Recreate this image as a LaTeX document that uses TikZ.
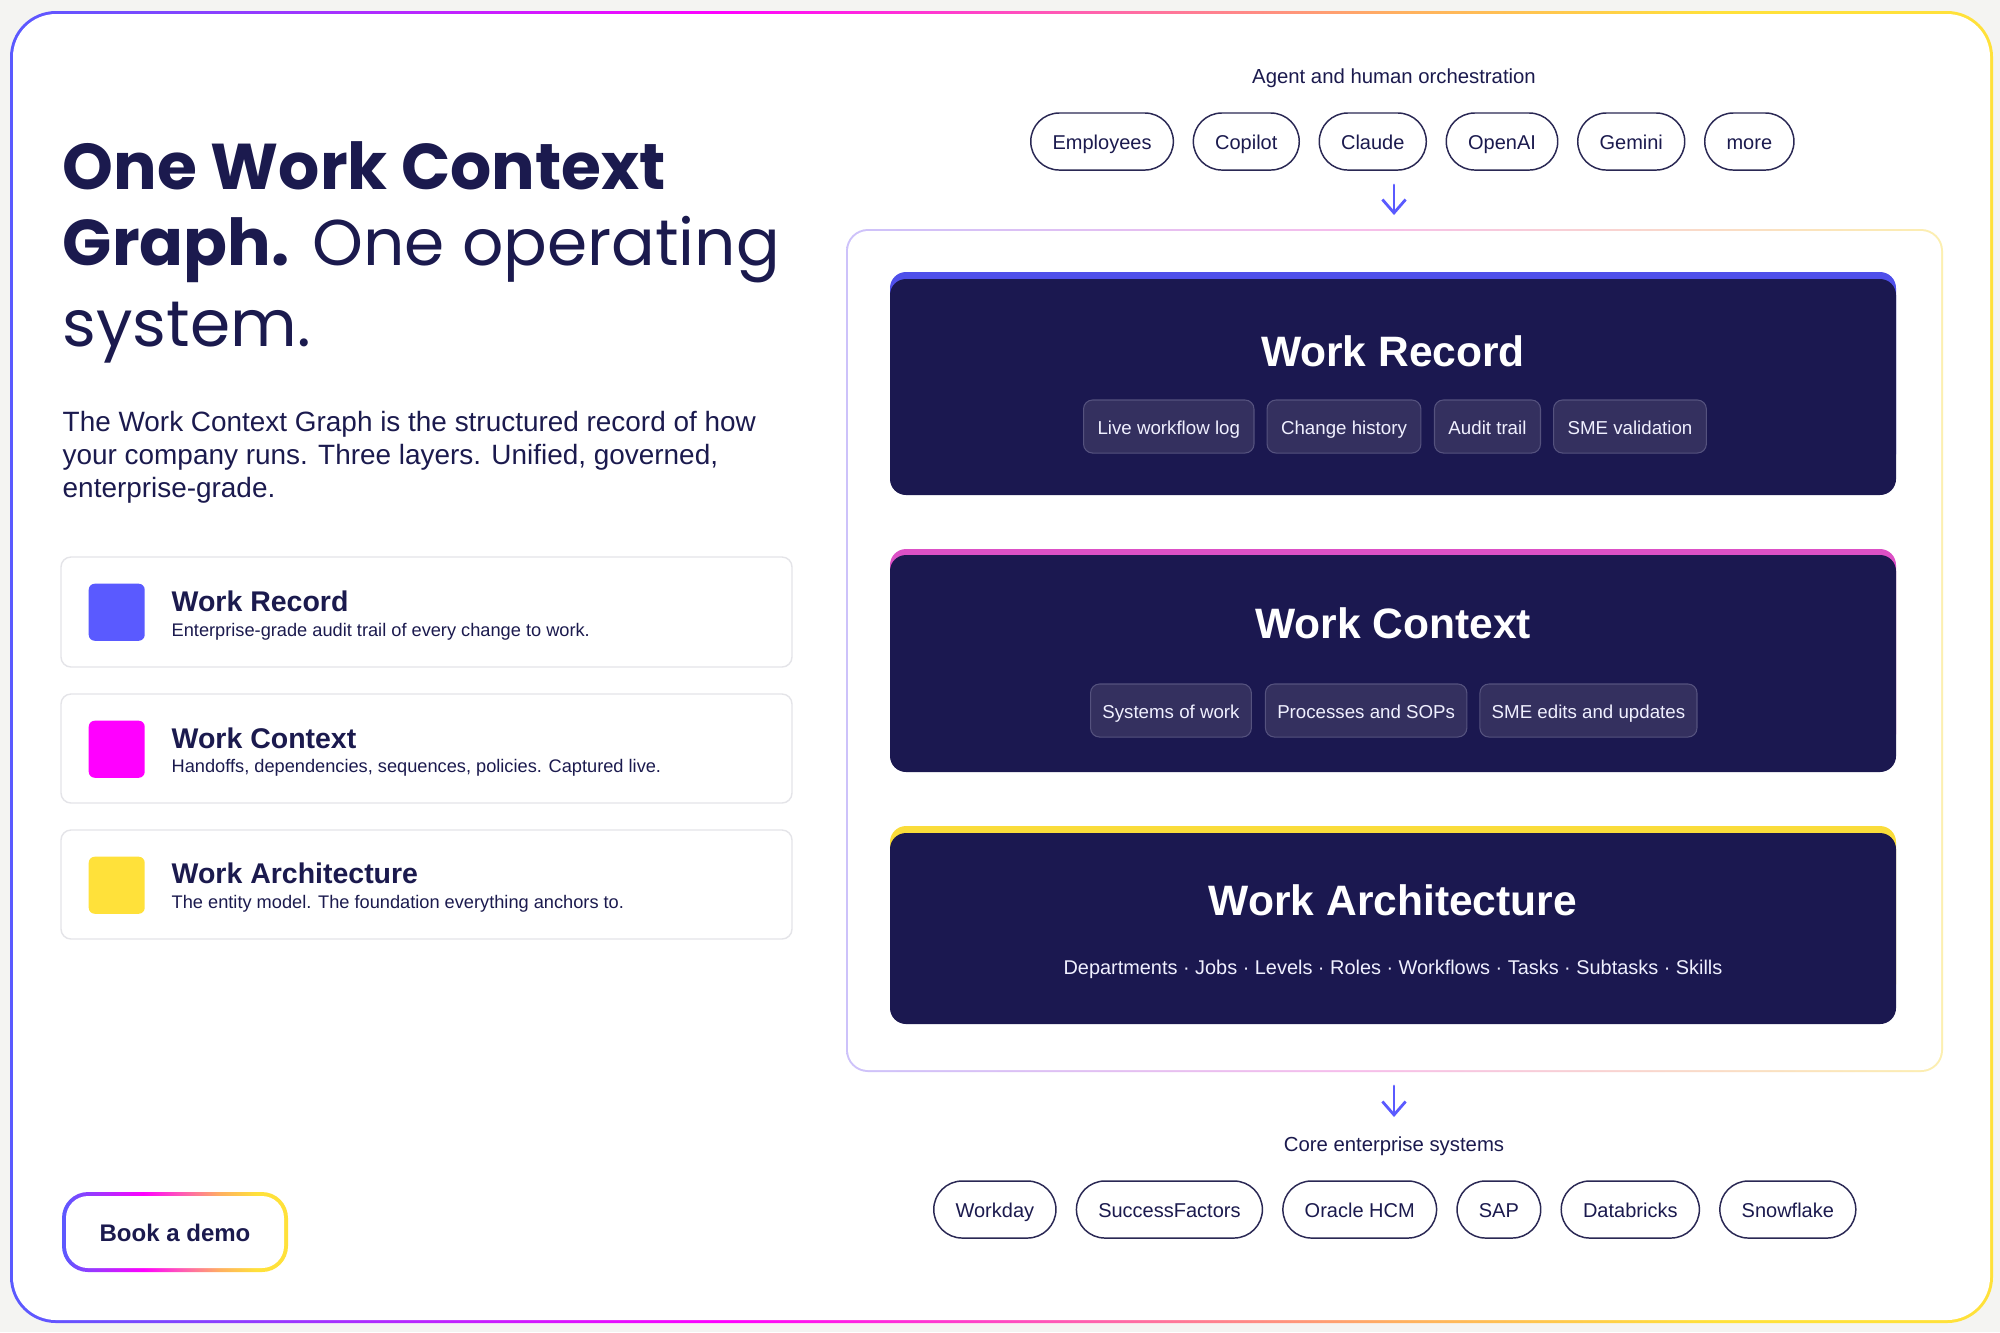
\documentclass[tikz,border=0pt]{standalone}
\usepackage{fontspec}
\setmainfont{Liberation Sans}
\newfontfamily\headfont{Poppins}
\usetikzlibrary{positioning,arrows.meta,calc}

\definecolor{inkc}{HTML}{1B1A4E}
\definecolor{navy}{HTML}{1B1850}
\definecolor{pillline}{HTML}{2A2854}
\definecolor{wrblue}{HTML}{5A5AFF}
\definecolor{wcmag}{HTML}{FF00FF}
\definecolor{wayel}{HTML}{FFE13A}
\definecolor{wpink}{HTML}{FF5FB0}
\definecolor{worange}{HTML}{FFB060}
\definecolor{pagebg}{HTML}{F4F4F2}
\definecolor{cardline}{HTML}{E4E4E8}
\definecolor{tagfill}{HTML}{34305F}
\definecolor{tagline}{HTML}{55527E}
\definecolor{barblue}{HTML}{4F4FEA}
\definecolor{barpink}{HTML}{DC50C6}
\definecolor{baryel}{HTML}{FADC3A}
\definecolor{softblue}{HTML}{CDC2FA}
\definecolor{softpink}{HTML}{F6BDEB}
\definecolor{softyel}{HTML}{FCEFB0}

\pgfdeclarehorizontalshading{brandedge}{100bp}{color(0bp)=(wrblue); color(25bp)=(wrblue); color(43bp)=(wcmag); color(52bp)=(wpink); color(60bp)=(worange); color(68bp)=(wayel); color(100bp)=(wayel)}
\pgfdeclarehorizontalshading{softedge}{100bp}{color(0bp)=(softblue); color(25bp)=(softblue); color(48bp)=(softpink); color(75bp)=(softyel); color(100bp)=(softyel)}

\begin{document}
\begin{tikzpicture}[x=0.01cm, y=-0.01cm,
        headline/.style={anchor=base west, inner sep=0pt, text=inkc, font=\headfont\fontsize{18.4}{22}\selectfont},
        para/.style={anchor=base west, inner sep=0pt, text=inkc, font=\fontsize{7.94}{9.5}\selectfont},
        card/.style={draw=cardline, fill=white, line width=0.4pt, rounded corners=0.1cm},
        swatch/.style={anchor=north west, rounded corners=0.06cm, minimum width=0.56cm, minimum height=0.57cm, inner sep=0pt},
        cardtitle/.style={anchor=base west, inner sep=0pt, text=inkc, font=\bfseries\fontsize{8.1}{9.7}\selectfont},
        cardsub/.style={anchor=base west, inner sep=0pt, text=inkc, font=\fontsize{5.18}{6.2}\selectfont},
        label/.style={anchor=base, inner sep=0pt, text=inkc, font=\fontsize{5.78}{7}\selectfont},
        pill/.style={draw=pillline, line width=0.42pt, rounded corners=0.285cm, minimum height=0.57cm,
          inner xsep=0.218cm, inner ysep=0pt, text height=5pt, text depth=0.2pt, text=inkc,
          font=\fontsize{5.69}{6.8}\selectfont},
        tag/.style={draw=tagline, fill=tagfill, line width=0.3pt, rounded corners=0.09cm, minimum height=0.53cm,
          inner xsep=0.14cm, inner ysep=0pt, text height=4.9pt, text depth=0.1pt, text=white!94!blue,
          font=\fontsize{5.32}{6.4}\selectfont},
        layertitle/.style={anchor=base, inner sep=0pt, text=white, font=\bfseries\fontsize{12.1}{14.5}\selectfont},
        flow/.style={draw=wrblue, line width=0.8pt, line cap=round, -{Straight Barb[length=3.8pt,width=6.6pt]}}
        ]
        \useasboundingbox (0,0) rectangle (2000,1332);
        \fill[pagebg] (0,0) rectangle (2000,1332);
        \shade[shading=brandedge, rounded corners=0.46cm] (10,11) rectangle (1993,1323);
        \fill[white, rounded corners=0.43cm] (13,14) rectangle (1990,1320);

        % left column
        \node[headline] (head1) at (62,189) {\bfseries One Work Context};
        \node[headline] (head2) at (62,265) {{\bfseries Graph.} One operating};
        \node[headline] (head3) at (62,346) {system.};

        \node[para] (intro1) at (62,431) {The Work Context Graph is the structured record of how};
        \node[para] (intro2) at (62,464) {your company runs. Three layers. Unified, governed,};
        \node[para] (intro3) at (62,497) {enterprise-grade.};

        \draw[card] (61,557) rectangle (792,667);
        \draw[card] (61,694) rectangle (792,803);
        \draw[card] (61,830) rectangle (792,939);
        \node[swatch, fill=wrblue] (swrec) at (88,583) {};
        \node[swatch, fill=wcmag] (swctx) at (88,720) {};
        \node[swatch, fill=wayel] (swarch) at (88,856) {};
        \node[cardtitle] (recname) at (171,611) {Work Record};
        \node[cardsub] (recnote) at (171,636) {Enterprise-grade audit trail of every change to work.};
        \node[cardtitle] (ctxname) at (171,748) {Work Context};
        \node[cardsub] (ctxnote) at (171,772) {Handoffs, dependencies, sequences, policies. Captured live.};
        \node[cardtitle] (archname) at (171,883) {Work Architecture};
        \node[cardsub] (archnote) at (171,908) {The entity model. The foundation everything anchors to.};

        \shade[shading=brandedge, rounded corners=0.26cm] (62,1192) rectangle (288,1272);
        \fill[white, rounded corners=0.22cm] (66,1196) rectangle (284,1268);
        \node[anchor=base, inner sep=0pt, text=inkc, font=\bfseries\fontsize{6.83}{8}\selectfont] (demo) at (175,1241) {Book a demo};

        % right column
        \node[label] (orch) at (1394,83) {Agent and human orchestration};
        \node[pill, anchor=west] (emp) at (1030,141.5) {Employees};
        \node[pill, right=0.185cm of emp] (copilot) {Copilot};
        \node[pill, right=0.185cm of copilot] (claude) {Claude};
        \node[pill, right=0.185cm of claude] (openai) {OpenAI};
        \node[pill, right=0.185cm of openai] (gemini) {Gemini};
        \node[pill, right=0.185cm of gemini] (more) {more};

        \coordinate (inTop) at (1394,185);
        \coordinate (inEnd) at (1394,215);
        \draw[flow] (inTop) -- (inEnd);

        \shade[shading=softedge, rounded corners=0.22cm] (846,229) rectangle (1943,1072);
        \fill[white, rounded corners=0.2cm] (848,231) rectangle (1941,1070);

        \fill[barblue, rounded corners=0.16cm] (890,272) rectangle (1896,470);
        \fill[navy, rounded corners=0.16cm] (890,279) rectangle (1896,495);
        \node[layertitle] (rectitle) at (1393,366) {Work Record};
        \node[tag, anchor=west] (livelog) at (1083,426.5) {Live workflow log};
        \node[tag, right=0.12cm of livelog] (history) {Change history};
        \node[tag, right=0.125cm of history] (audit) {Audit trail};
        \node[tag, right=0.12cm of audit] (smeval) {SME validation};

        \fill[barpink, rounded corners=0.16cm] (890,549) rectangle (1896,750);
        \fill[navy, rounded corners=0.16cm] (890,555) rectangle (1896,772);
        \node[layertitle] (ctxtitle) at (1393,638) {Work Context};
        \node[tag, inner xsep=0.118cm, anchor=west] (systems) at (1090,710.5) {Systems of work};
        \node[tag, inner xsep=0.118cm, right=0.13cm of systems] (sops) {Processes and SOPs};
        \node[tag, inner xsep=0.118cm, right=0.12cm of sops] (smeedit) {SME edits and updates};

        \fill[baryel, rounded corners=0.16cm] (890,826) rectangle (1896,1000);
        \fill[navy, rounded corners=0.16cm] (890,833) rectangle (1896,1024);
        \node[layertitle] (archtitle) at (1393,915) {Work Architecture};
        \node[anchor=base, inner sep=0pt, text=white!94!blue, font=\fontsize{5.66}{6.8}\selectfont] (archlist) at (1393,974)
          {Departments · Jobs · Levels · Roles · Workflows · Tasks · Subtasks · Skills};

        \coordinate (outTop) at (1394,1086);
        \coordinate (outEnd) at (1394,1117);
        \draw[flow] (outTop) -- (outEnd);

        \node[label] (core) at (1394,1151) {Core enterprise systems};
        \node[pill, anchor=west] (workday) at (933,1209.5) {Workday};
        \node[pill, right=0.19cm of workday] (sf) {SuccessFactors};
        \node[pill, right=0.19cm of sf] (oracle) {Oracle HCM};
        \node[pill, right=0.19cm of oracle] (sap) {SAP};
        \node[pill, right=0.19cm of sap] (databricks) {Databricks};
        \node[pill, right=0.19cm of databricks] (snowflake) {Snowflake};
      \end{tikzpicture}
\end{document}
